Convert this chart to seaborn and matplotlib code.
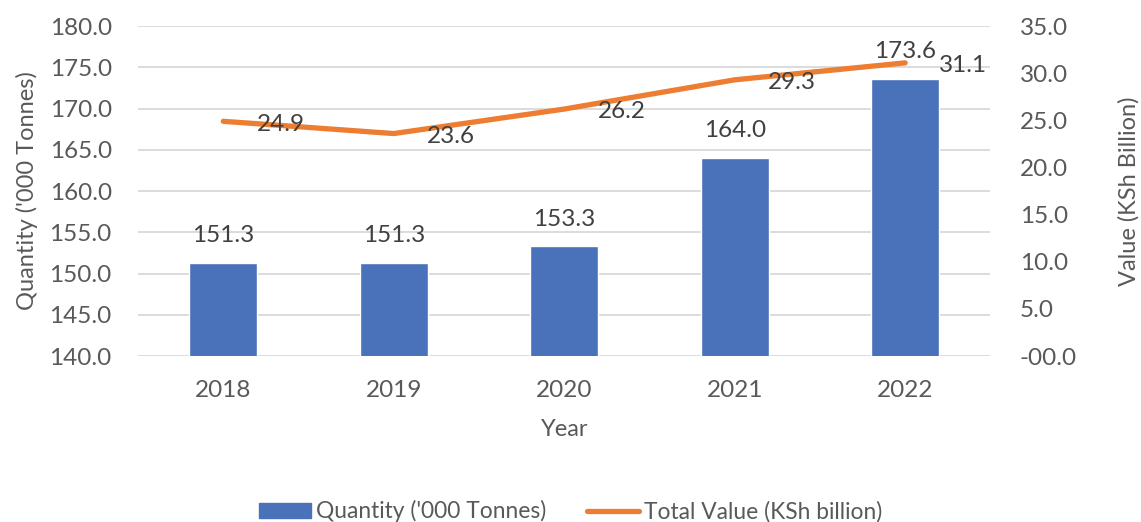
import matplotlib
matplotlib.use("Agg")
import matplotlib.pyplot as plt
import seaborn as sns
import pandas as pd
from matplotlib.patches import Patch
from matplotlib.lines import Line2D

years = ["2018", "2019", "2020", "2021", "2022"]
quantity = [151.3, 151.3, 153.3, 164.0, 173.6]
value = [24.9, 23.6, 26.2, 29.3, 31.1]
left_ticks = [140, 145, 150, 155, 160, 165, 170, 175, 180]
right_ticks = [0, 5, 10, 15, 20, 25, 30, 35]
right_tick_labels = ["-00.0", "5.0", "10.0", "15.0", "20.0", "25.0", "30.0", "35.0"]
bar_name = "Quantity ('000 Tonnes)"
line_name = "Total Value (KSh billion)"

df = pd.DataFrame({"Year": years, "Quantity": quantity, "Value": value})

sns.set_style("white")
plt.rcParams["font.family"] = ["Lato", "DejaVu Sans"]

BLUE = "#4A72BA"
ORANGE = "#ED7D31"
TICK = "#595959"
LABEL = "#404040"
FS = 17.5

fig = plt.figure(figsize=(11.41, 5.22), dpi=100)
ax = fig.add_axes([0.121, 0.318, 0.747, 0.632])

sns.barplot(data=df, x="Year", y="Quantity", color=BLUE, width=0.4,
            saturation=1, ax=ax, zorder=2)
ax.set_ylim(left_ticks[0], left_ticks[-1])
ax.set_yticks(left_ticks)
ax.set_yticklabels([f"{t:.1f}" for t in left_ticks])
ax.yaxis.grid(True, color="#D9D9D9", linewidth=1.3, zorder=0)
ax.set_axisbelow(True)
for s in ax.spines.values():
    s.set_visible(False)
ax.tick_params(axis="both", length=0, labelsize=FS, labelcolor=TICK)
ax.tick_params(axis="y", pad=19)
ax.tick_params(axis="x", pad=17)
ax.set_xlabel("Year", fontsize=17, color=TICK, labelpad=13)
ax.set_ylabel(bar_name, fontsize=17, color=TICK, labelpad=8)
ax.set_xlim(-0.5, len(years) - 0.5)

for c in ax.containers:
    ax.bar_label(c, fmt="%.1f", padding=12, fontsize=FS, color=LABEL)

ax2 = ax.twinx()
sns.lineplot(data=df, x="Year", y="Value", color=ORANGE, linewidth=3.8,
             ax=ax2, sort=False, solid_capstyle="round")
ax2.set_ylim(right_ticks[0], right_ticks[-1])
ax2.set_yticks(right_ticks)
ax2.set_yticklabels(right_tick_labels)
for s in ax2.spines.values():
    s.set_visible(False)
ax2.tick_params(axis="y", length=0, labelsize=FS, labelcolor=TICK, pad=21)
ax2.set_ylabel("Value (KSh Billion)", fontsize=17, color=TICK,
               labelpad=30, rotation=90)
ax2.set_xlabel("")
ax2.set_xlim(-0.5, len(years) - 0.5)

for i, v in enumerate(value):
    ax2.annotate(f"{v:.1f}", (i, v), xytext=(24, -2), textcoords="offset points",
                 ha="left", va="center", fontsize=FS, color=LABEL)

handles = [Patch(facecolor=BLUE, edgecolor=BLUE),
           Line2D([0], [0], color=ORANGE, linewidth=3.8, solid_capstyle="round")]
fig.legend(handles, [bar_name, line_name], loc="lower center",
           bbox_to_anchor=(0.5, -0.04), ncol=2, frameon=False,
           fontsize=16.4, handlelength=2.3, handleheight=0.65,
           handletextpad=0.2, columnspacing=1.8, labelcolor=TICK)

fig.savefig("out.png", dpi=100)
